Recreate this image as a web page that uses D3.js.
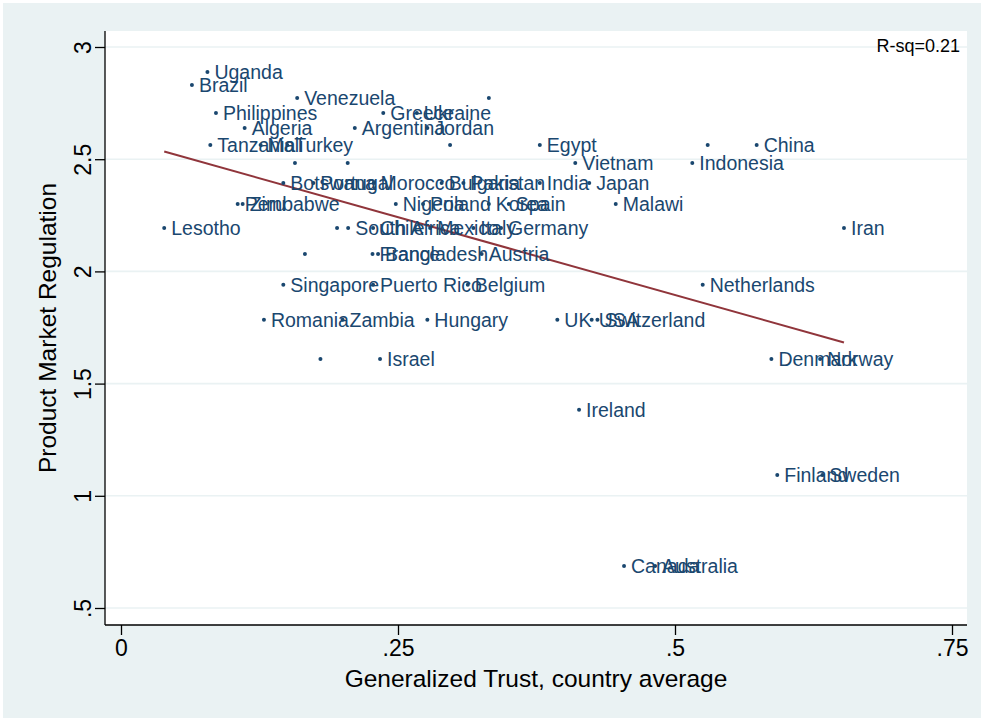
<!DOCTYPE html>
<html>
<head>
<meta charset="utf-8">
<script src="https://cdn.jsdelivr.net/npm/d3@7"></script>
<style>
  body { margin: 0; background: #fff; }
  svg { display: block; font-family: "Liberation Sans", Arial, sans-serif; }
</style>
</head>
<body>
<div id="chart"></div>
<script>
const xLabel = "Generalized Trust, country average"
const yLabel = "Product Market Regulation"
const rsqLabel = "R-sq=0.21"

// country labels, "" = unlabeled point
const countries = [
  "Uganda", "Brazil", "Venezuela", "",
  "Philippines", "Greece", "Ukraine",
  "Algeria", "Argentina", "Jordan",
  "Tanzania", "Mali", "Turkey", "", "Egypt", "", "China",
  "", "", "Vietnam", "Indonesia",
  "Botswana", "Portugal", "Morocco", "Bulgaria", "Pakistan", "India", "Japan",
  "Peru", "Zimbabwe", "Nigeria", "Poland", "Korea", "Spain", "Malawi",
  "Lesotho", "", "South Africa", "Chile", "Mexico", "Italy", "Germany", "Iran",
  "", "France", "Bangladesh", "Austria",
  "Singapore", "Puerto Rico", "Belgium", "Netherlands",
  "Romania", "Zambia", "Hungary", "UK", "USA", "Switzerland",
  "", "Israel", "Denmark", "Norway",
  "Ireland",
  "Finland", "Sweden",
  "Canada", "Australia",
]

// generalized trust (x)
const trust = [
  0.078, 0.064, 0.159, 0.332,
  0.0857, 0.2367, 0.267,
  0.1116, 0.211, 0.2765,
  0.0806, 0.126, 0.150, 0.297, 0.378, 0.5295, 0.5737,
  0.157, 0.2046, 0.41, 0.5156,
  0.1465, 0.1736, 0.228, 0.2894, 0.309, 0.378, 0.4226,
  0.1053, 0.1098, 0.248, 0.2726, 0.332, 0.350, 0.4465,
  0.039, 0.195, 0.205, 0.2275, 0.279, 0.318, 0.343, 0.6525,
  0.166, 0.227, 0.232, 0.3255,
  0.1465, 0.2275, 0.313, 0.525,
  0.129, 0.2, 0.2765, 0.3938, 0.4248, 0.43,
  0.18, 0.2338, 0.587, 0.631,
  0.4134,
  0.5923, 0.633,
  0.454, 0.482,
]

// product market regulation (y)
const regulation = [
  2.889, 2.831, 2.773, 2.773,
  2.706, 2.706, 2.706,
  2.639, 2.639, 2.639,
  2.563, 2.563, 2.563, 2.563, 2.563, 2.563, 2.563,
  2.483, 2.483, 2.483, 2.483,
  2.394, 2.394, 2.394, 2.394, 2.394, 2.394, 2.394,
  2.3, 2.3, 2.3, 2.3, 2.3, 2.3, 2.3,
  2.193, 2.193, 2.193, 2.193, 2.193, 2.193, 2.193, 2.193,
  2.078, 2.078, 2.078, 2.078,
  1.94, 1.94, 1.94, 1.94,
  1.784, 1.784, 1.784, 1.784, 1.784, 1.784,
  1.61, 1.61, 1.61, 1.61,
  1.383,
  1.093, 1.093,
  0.687, 0.687,
]

const xTicks = [0, 0.25, 0.5, 0.75]
const xTickLabels = ["0", ".25", ".5", ".75"]
const yTicks = [0.5, 1, 1.5, 2, 2.5, 3]
const yTickLabels = [".5", "1", "1.5", "2", "2.5", "3"]

const navy = "#1a476f"
const maroon = "#90353b"
const bgColor = "#eaf2f3"

let width = 982
let height = 720
// plot region edges
let plot = { left: 105, right: 967, top: 31, bottom: 625 }

let data = countries.map((c, i) => ({ country: c, x: trust[i], y: regulation[i] }))

const svg = d3
  .select("#chart")
  .append("svg")
  .attr("width", width)
  .attr("height", height)

svg.append("rect")
  .attr("x", 3).attr("y", 3)
  .attr("width", width - 4).attr("height", height - 5)
  .attr("fill", bgColor)

svg.append("rect")
  .attr("x", plot.left).attr("y", plot.top)
  .attr("width", plot.right - plot.left).attr("height", plot.bottom - plot.top)
  .attr("fill", "#fff")

// Scales
let x = d3.scaleLinear().domain([0, 0.75]).range([121, 952])
let y = d3.scaleLinear().domain([0.5, 3]).range([608, 47])

// horizontal grid
svg.append("g")
  .selectAll("line")
  .data(yTicks)
  .join("line")
  .attr("x1", plot.left)
  .attr("x2", plot.right)
  .attr("y1", d => y(d))
  .attr("y2", d => y(d))
  .attr("stroke", bgColor)
  .attr("stroke-width", 1.6)

// Axes
let xAxis = d3.axisBottom(x)
  .tickValues(xTicks)
  .tickFormat((d, i) => xTickLabels[i])
  .tickSize(10)
  .tickPadding(5)

let yAxis = d3.axisLeft(y)
  .tickValues(yTicks)
  .tickFormat((d, i) => yTickLabels[i])
  .tickSize(10)

svg.append("g")
  .attr("transform", `translate(0,${plot.bottom})`)
  .call(xAxis)
  .call(g => g.select(".domain").attr("d", `M${plot.left},0H${plot.right}`))
  .call(g => g.selectAll("line, .domain").attr("stroke", "#000").attr("stroke-width", 1.3))
  .call(g => g.selectAll("text")
    .attr("fill", "#000")
    .style("font-size", "23px")
    .style("font-family", "Liberation Sans, Arial, sans-serif"))

svg.append("g")
  .attr("transform", `translate(${plot.left},0)`)
  .call(yAxis)
  .call(g => g.select(".domain").attr("d", `M0,${plot.top}V${plot.bottom}`))
  .call(g => g.selectAll("line, .domain").attr("stroke", "#000").attr("stroke-width", 1.3))
  .call(g => g.selectAll("text")
    .attr("x", null)
    .attr("dy", null)
    .attr("fill", "#000")
    .attr("text-anchor", "middle")
    .attr("transform", "translate(-14,0) rotate(-90)")
    .style("font-size", "23px")
    .style("font-family", "Liberation Sans, Arial, sans-serif"))

// axis titles
svg.append("text")
  .text(xLabel)
  .attr("x", (plot.left + plot.right) / 2)
  .attr("y", 687)
  .attr("text-anchor", "middle")
  .style("font-size", "24.5px")

svg.append("text")
  .text(yLabel)
  .attr("text-anchor", "middle")
  .attr("transform", `translate(56,${(plot.top + plot.bottom) / 2}) rotate(-90)`)
  .style("font-size", "24.5px")

// linear fit over the observed range
let xMean = d3.mean(data, d => d.x)
let yMean = d3.mean(data, d => d.y)
let slope = d3.sum(data, d => (d.x - xMean) * (d.y - yMean)) / d3.sum(data, d => (d.x - xMean) ** 2)
let intercept = yMean - slope * xMean
let fitX = d3.extent(data, d => d.x)

svg.append("path")
  .datum(fitX.map(v => ({ x: v, y: intercept + slope * v })))
  .attr("d", d3.line().x(d => x(d.x)).y(d => y(d.y)))
  .attr("fill", "none")
  .attr("stroke", maroon)
  .attr("stroke-width", 2)

// points + marker labels
let pts = svg.append("g").attr("class", "points")

pts.selectAll("circle")
  .data(data)
  .join("circle")
  .attr("cx", d => x(d.x))
  .attr("cy", d => y(d.y))
  .attr("r", 2)
  .attr("fill", navy)

pts.selectAll("text")
  .data(data.filter(d => d.country !== ""))
  .join("text")
  .attr("x", d => x(d.x) + 7)
  .attr("y", d => y(d.y))
  .attr("dy", "0.35em")
  .text(d => d.country)
  .attr("fill", navy)
  .style("font-size", "19.5px")

svg.append("text")
  .text(rsqLabel)
  .attr("x", 960)
  .attr("y", 52)
  .attr("text-anchor", "end")
  .attr("fill", "#000")
  .style("font-size", "18px")
</script>
</body>
</html>
